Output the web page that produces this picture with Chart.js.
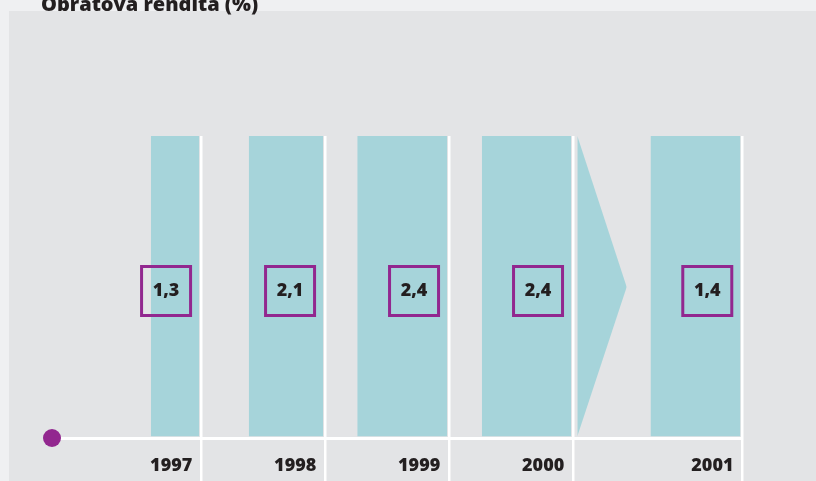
<!DOCTYPE html>
<html>
<head>
<meta charset="utf-8">
<script src="https://cdn.jsdelivr.net/npm/chart.js@4/dist/chart.umd.min.js"></script>
<style>
  html, body { margin: 0; padding: 0; background: #eff0f2; }
  #wrap { width: 816px; height: 481px; position: relative; }
</style>
</head>
<body>
<div id="wrap"><canvas id="c" width="816" height="481"></canvas></div>
<script>
// ---- data ----
const title = 'Obratová rendita (%)';
const categories = ['1997', '1998', '1999', '2000', '2001'];
const rendita = [1.3, 2.1, 2.4, 2.4, 1.4];
const columnHeight = [1, 1, 1, 1, 1];

// ---- layout / style (scale units) ----
const slotEnds = [1, 2, 3, 4, 5.365];          // separator positions on x scale
const colWidths = [0.39, 0.6, 0.725, 0.72, 0.725];
const colGap = 0.013;
const colBase = 0.006;                           // columns stop just above the base line
const boxInset = 0.28;                           // box centre left of separator
const boxLevel = 0.487;
const arrowStart = 4.037, arrowTip = 4.435;
const X_MIN = -0.2;

const TEAL = '#a6d4da', PURPLE = '#92278f', INK = '#231f20';
const FONT = '"Open Sans", "Liberation Sans", sans-serif';

const datasets = [];
// value boxes
datasets.push({
  type: 'scatter', label: 'boxes',
  data: rendita.map((v, i) => ({ x: slotEnds[i] - boxInset, y: boxLevel })),
  pointStyle: 'rect', pointRadius: 34.65, pointHoverRadius: 34.65,
  borderColor: PURPLE, borderWidth: 3, backgroundColor: 'rgba(0,0,0,0)', hoverBorderWidth: 3
});
// origin dot
datasets.push({
  type: 'scatter', label: 'dot', clip: false,
  data: [{ x: X_MIN, y: 0 }],
  pointRadius: 9, pointHoverRadius: 9, backgroundColor: PURPLE, borderWidth: 0
});
// arrow (fill between upper and lower edge)
datasets.push({
  type: 'line', label: 'arrowTop',
  data: [{ x: arrowStart, y: 1 }, { x: arrowTip, y: 0.5 }],
  fill: '+1', backgroundColor: TEAL, borderWidth: 0, pointRadius: 0
});
datasets.push({
  type: 'line', label: 'arrowBottom',
  data: [{ x: arrowStart, y: colBase }, { x: arrowTip, y: 0.5 }],
  fill: false, borderWidth: 0, pointRadius: 0
});
// columns
columnHeight.forEach((h, i) => {
  const r = slotEnds[i] - colGap, l = r - colWidths[i];
  datasets.push({
    type: 'line', label: categories[i],
    data: [{ x: l, y: h }, { x: r, y: h }],
    fill: { value: colBase }, backgroundColor: TEAL, borderWidth: 0, pointRadius: 0
  });
});

const backdrop = {
  id: 'backdrop',
  beforeDraw(chart) {
    const ctx = chart.ctx;
    ctx.save();
    ctx.fillStyle = '#eff0f2';
    ctx.fillRect(0, 0, chart.width, chart.height);
    ctx.fillStyle = '#e3e4e6';
    ctx.fillRect(9, 11, chart.width - 9, chart.height - 11);
    ctx.fillStyle = INK;
    ctx.font = '800 20px ' + FONT;
    ctx.textAlign = 'left';
    ctx.textBaseline = 'alphabetic';
    ctx.fillText(title, 41, 11);
    ctx.restore();
  }
};

const boxLabels = {
  id: 'boxLabels',
  afterDatasetsDraw(chart) {
    const meta = chart.getDatasetMeta(0);
    const ctx = chart.ctx;
    ctx.save();
    ctx.fillStyle = INK;
    ctx.font = '800 18px ' + FONT;
    ctx.textAlign = 'center';
    ctx.textBaseline = 'middle';
    meta.data.forEach((pt, i) => {
      ctx.fillText(rendita[i].toFixed(1).replace('.', ','), pt.x, pt.y);
    });
    ctx.restore();
  }
};

new Chart(document.getElementById('c'), {
  data: { datasets },
  options: {
    responsive: false,
    animation: false,
    events: [],
    layout: { padding: { left: 52, right: 74, top: 136, bottom: 0 } },
    plugins: { legend: { display: false }, tooltip: { enabled: false }, title: { display: false } },
    scales: {
      x: {
        type: 'linear', min: X_MIN, max: slotEnds[slotEnds.length - 1],
        afterBuildTicks: (axis) => { axis.ticks = slotEnds.map(v => ({ value: v })); },
        afterFit: (axis) => { axis.height = 43; },
        grid: { color: '#ffffff', lineWidth: 2.5, tickLength: 43, drawOnChartArea: true, z: 0 },
        border: { color: '#ffffff', width: 3, z: 0 },
        ticks: {
          align: 'end', labelOffset: -8.5, padding: -26, autoSkip: false, maxRotation: 0,
          color: INK, font: { family: FONT, size: 18, weight: 800 },
          callback: (v, i) => categories[i]
        }
      },
      y: { type: 'linear', min: 0, max: 1, display: false }
    }
  },
  plugins: [backdrop, boxLabels]
});
</script>
</body>
</html>
